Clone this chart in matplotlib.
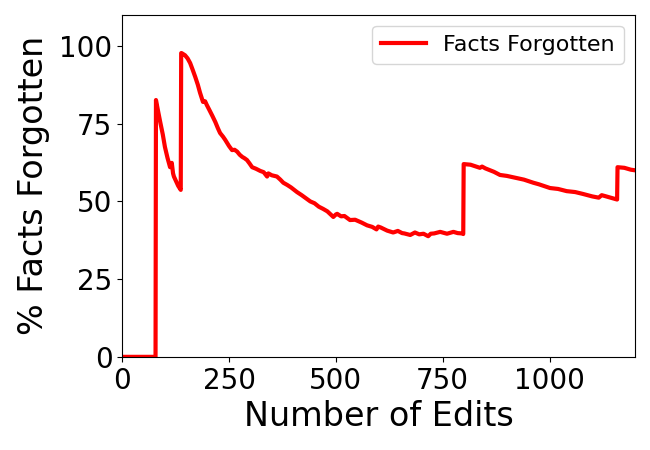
import matplotlib
matplotlib.use("Agg")
import matplotlib.pyplot as plt

# values
num_edits = [0, 78, 79, 84, 89, 95, 100, 106, 112, 116, 119, 121, 126, 131, 137, 138,
             139, 147, 153, 159, 165, 171, 177, 182, 189, 194, 198, 204, 211, 218, 224,
             229, 236, 241, 250, 257, 263, 269, 275, 281, 286, 292, 298, 304, 313, 323,
             331, 339, 342, 350, 362, 370, 377, 386, 395, 409, 420, 430, 440, 450, 460,
             470, 480, 494, 500, 503, 512, 520, 533, 545, 560, 573, 585, 595, 599, 605,
             620, 634, 645, 655, 660, 674, 685, 695, 705, 716, 722, 730, 744, 760, 775,
             785, 795, 798, 799, 815, 837, 842, 850, 870, 884, 900, 920, 940, 962, 975,
             1001, 1020, 1040, 1060, 1078, 1100, 1115, 1122, 1130, 1158, 1159, 1175, 1190,
             1200]
pct_forgotten = [0, 0, 82.6, 79, 75.5, 71.5, 67.5, 64, 61, 62.4, 59, 58, 56.5, 55, 53.7, 97.7,
                 97.7, 97, 96, 94.5, 92.3, 90, 87.5, 85, 82, 82.2, 81, 79.4, 77.5, 75.5, 73.5,
                 72, 70.8, 69.8, 67.8, 66.5, 66.6, 66, 65, 64.3, 63.9, 63.3, 62.2, 61, 60.5, 59.8,
                 59.4, 58, 59, 58.4, 58, 57, 56, 55.3, 54.5, 53, 52, 51, 50, 49.4, 48.3,
                 47.6, 46.8, 45, 45.8, 46, 45.2, 45.3, 44, 44.1, 43.2, 42.3, 41.8, 41, 41.9, 41.6,
                 40.6, 40, 40.5, 39.8, 39.7, 39.2, 40, 39.4, 39.6, 38.8, 39.6, 39.7, 40.2, 39.6, 40.2,
                 39.8, 39.7, 39.5, 62, 61.8, 60.8, 61.2, 60.6, 59.5, 58.5, 58.2, 57.6, 57, 56, 55.5,
                 54.3, 54.0, 53.3, 53.0, 52.4, 51.6, 51.2, 52.0, 51.7, 50.6, 61, 60.8, 60.2,
                 60]

fig, ax = plt.subplots(figsize=(6.5, 4.5), dpi=100)
ax.plot(num_edits, pct_forgotten, color="red", lw=3, label="Facts Forgotten")
ax.set_xlim(0, 1200)
ax.set_ylim(0, 110)
ax.set_xticks([0, 250, 500, 750, 1000])
ax.set_yticks([0, 25, 50, 75, 100])
ax.tick_params(labelsize=20)
ax.set_xlabel("Number of Edits", fontsize=24)
ax.set_ylabel("% Facts Forgotten", fontsize=24, labelpad=7)
ax.legend(loc="upper right", fontsize=16)
fig.subplots_adjust(left=0.188, right=0.977, bottom=0.207, top=0.967)
fig.savefig("out.png")
